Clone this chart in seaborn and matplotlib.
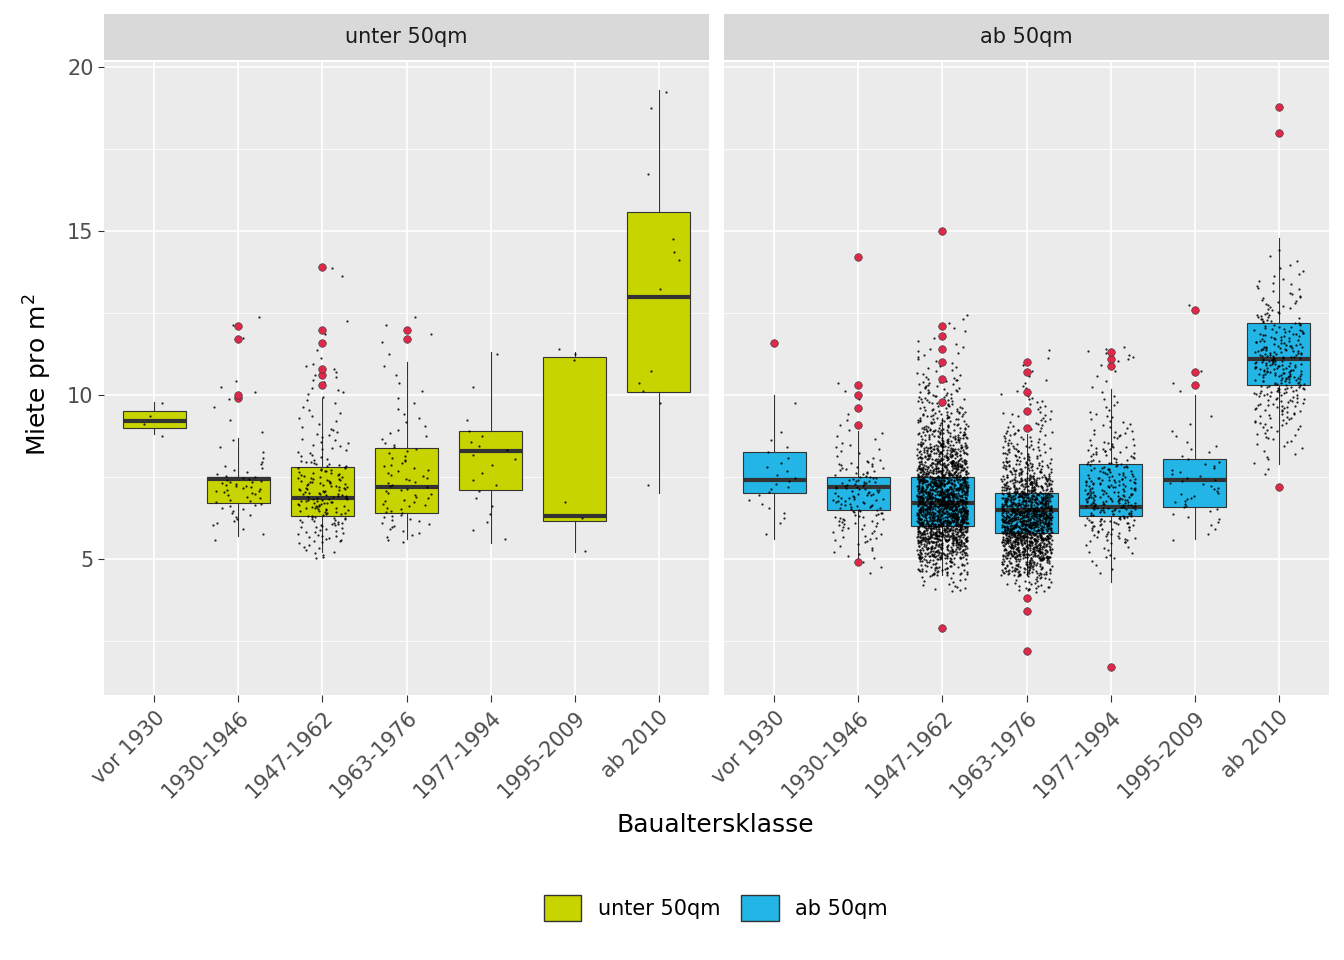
import matplotlib
matplotlib.use("Agg")
import matplotlib.pyplot as plt
from matplotlib.patches import Patch
from matplotlib.lines import Line2D
import numpy as np
import pandas as pd
import seaborn as sns

KLASSEN = ["vor 1930", "1930-1946", "1947-1962", "1963-1976", "1977-1994", "1995-2009", "ab 2010"]
GRUPPEN = ["unter 50qm", "ab 50qm"]
FARBEN = {"unter 50qm": "#C8D400", "ab 50qm": "#22B5E6"}

# box statistics: whislo, q1, median, q3, whishi
BOX_KLEIN = [
    (8.8, 9.0, 9.2, 9.5, 9.8),
    (5.7, 6.7, 7.45, 7.5, 8.7),
    (5.2, 6.3, 6.85, 7.8, 9.9),
    (5.6, 6.4, 7.2, 8.4, 11.0),
    (5.5, 7.1, 8.3, 8.9, 11.3),
    (5.2, 6.15, 6.3, 11.15, 11.3),
    (7.0, 10.1, 13.0, 15.6, 19.3),
]
BOX_GROSS = [
    (5.6, 7.0, 7.4, 8.25, 10.0),
    (5.0, 6.5, 7.2, 7.5, 8.9),
    (4.5, 6.0, 6.7, 7.5, 9.3),
    (4.5, 5.8, 6.5, 7.0, 8.8),
    (4.3, 6.3, 6.6, 7.9, 10.2),
    (5.6, 6.6, 7.4, 8.05, 10.0),
    (7.9, 10.3, 11.1, 12.2, 14.8),
]
AUSREISSER_KLEIN = [[], [9.9, 10.0, 11.7, 12.1], [10.3, 10.6, 10.8, 11.6, 12.0, 13.9],
                    [11.7, 12.0], [], [], []]
AUSREISSER_GROSS = [[11.6], [4.9, 9.1, 9.6, 10.0, 10.3, 14.2],
                    [2.9, 9.8, 10.5, 11.0, 11.4, 11.8, 12.1, 15.0],
                    [2.2, 3.4, 3.8, 9.0, 9.5, 10.1, 10.7, 11.0],
                    [1.7, 10.9, 11.1, 11.3], [10.3, 10.7, 12.6], [7.2, 18.0, 18.8]]

# point counts per 0.5-wide rent bin, bins starting at 4.0
BIN_START = 4.0
BIN_BREITE = 0.5
ZAHL_KLEIN = [
    [0, 0, 0, 0, 0, 0, 0, 0, 0, 1, 2, 1],
    [0, 0, 0, 3, 8, 12, 20, 8, 3, 2, 1, 2, 3, 0, 0, 1, 2],
    [0, 0, 10, 20, 30, 40, 35, 25, 12, 10, 6, 5, 8, 6, 2, 2, 1, 0, 0, 2],
    [0, 0, 0, 8, 12, 12, 12, 10, 8, 5, 4, 3, 2, 2, 1, 2, 2],
    [0, 0, 0, 2, 2, 2, 3, 2, 4, 3, 1, 0, 1, 0, 1],
    [0, 0, 1, 0, 1, 1, 0, 0, 0, 0, 0, 0, 0, 0, 3],
    [0, 0, 0, 0, 0, 0, 1, 0, 0, 0, 0, 1, 2, 1, 0, 0, 0, 0, 1, 0, 2, 1, 0, 0, 0, 1, 0, 0, 0, 1, 1],
]
ZAHL_GROSS = [
    [0, 0, 0, 1, 3, 4, 6, 4, 3, 2, 0, 1],
    [0, 3, 8, 15, 25, 30, 30, 20, 8, 5, 3, 2, 2],
    [15, 60, 150, 250, 330, 330, 280, 200, 130, 80, 50, 35, 25, 12, 8, 5, 4],
    [30, 100, 200, 280, 300, 230, 140, 70, 40, 25, 15, 10, 6, 3, 2],
    [0, 4, 10, 25, 45, 65, 50, 35, 25, 15, 10, 6, 3, 3, 8],
    [0, 0, 0, 3, 6, 10, 10, 8, 5, 3, 2, 0, 2, 1, 0, 0, 0, 1],
    [0, 0, 0, 0, 0, 0, 0, 3, 6, 12, 20, 30, 45, 55, 50, 35, 25, 15, 10, 6, 3],
]


def punkte(zahlen):
    werte = []
    for k, c in enumerate(zahlen):
        if c:
            lo = BIN_START + k * BIN_BREITE
            werte.extend(lo + BIN_BREITE * (np.arange(c) + 0.5) / c)
    return werte


def panel(ax, gruppe, boxen, ausreisser, zahlen):
    ax.set_facecolor("#EBEBEB")
    stats = [dict(whislo=b[0], q1=b[1], med=b[2], q3=b[3], whishi=b[4], fliers=[])
             for b in boxen]
    ax.bxp(stats, positions=range(7), widths=0.75, patch_artist=True, showcaps=False,
           boxprops=dict(facecolor=FARBEN[gruppe], edgecolor="#333333", linewidth=0.8),
           medianprops=dict(color="#333333", linewidth=3),
           whiskerprops=dict(color="#333333", linewidth=0.8), zorder=2)
    rows = []
    for kl, z in zip(KLASSEN, zahlen):
        rows += [(kl, v) for v in punkte(z)]
    df = pd.DataFrame(rows, columns=["klasse", "miete"])
    sns.stripplot(data=df, x="klasse", y="miete", order=KLASSEN, ax=ax, color="black",
                  size=1.6, jitter=0.3, alpha=0.85, zorder=3)
    for i, out in enumerate(ausreisser):
        ax.scatter([i] * len(out), out, s=30, color="#E0284A", edgecolor="#333333",
                   linewidth=0.4, zorder=4)
    ax.set_xlim(-0.6, 6.6)
    ax.set_ylim(0.85, 20.15)
    ax.set_yticks([5, 10, 15, 20])
    ax.set_yticks([2.5, 7.5, 12.5, 17.5], minor=True)
    ax.set_xticks(range(7))
    ax.set_xticklabels(KLASSEN, rotation=45, ha="right", rotation_mode="anchor",
                       fontsize=15, color="#4D4D4D")
    ax.grid(which="major", color="white", linewidth=1.2)
    ax.grid(which="minor", color="white", linewidth=0.6)
    ax.set_axisbelow(True)
    ax.tick_params(which="both", length=0)
    ax.tick_params(axis="y", labelsize=15, labelcolor="#4D4D4D")
    ax.tick_params(axis="x", length=5, color="#333333", pad=4)
    for s in ax.spines.values():
        s.set_visible(False)
    ax.set_xlabel("")
    ax.set_ylabel("")


fig = plt.figure(figsize=(13.44, 9.6), dpi=100)
bottom, height = 0.276, 0.659
lefts = [104 / 1344, 724 / 1344]
width = 605 / 1344
for gruppe, x0, boxen, aus, zahl in zip(GRUPPEN, lefts, [BOX_KLEIN, BOX_GROSS],
                                         [AUSREISSER_KLEIN, AUSREISSER_GROSS],
                                         [ZAHL_KLEIN, ZAHL_GROSS]):
    ax = fig.add_axes([x0, bottom, width, height])
    panel(ax, gruppe, boxen, aus, zahl)
    if gruppe != GRUPPEN[0]:
        ax.set_yticklabels([])
    else:
        ax.tick_params(axis="y", length=4, color="#333333")
    strip = fig.add_axes([x0, 1 - 60 / 960, width, 46 / 960])
    strip.set_facecolor("#D9D9D9")
    strip.set_xticks([]); strip.set_yticks([])
    for s in strip.spines.values():
        s.set_visible(False)
    strip.text(0.5, 0.5, gruppe, ha="center", va="center", fontsize=15, color="#1A1A1A")

fig.text(0.5325, 1 - 825 / 960, "Baualtersklasse", ha="center", va="center", fontsize=18)
fig.text(0.028, 0.61, "Miete pro m$^2$", rotation=90, ha="center", va="center", fontsize=18)

handles = [Patch(facecolor=FARBEN[g], edgecolor="#333333", label=g) for g in GRUPPEN]
fig.legend(handles=handles, loc="center", bbox_to_anchor=(0.5325, 1 - 908 / 960), ncol=2,
           frameon=False, fontsize=15, handlelength=1.8, handleheight=1.6,
           columnspacing=1.0)

fig.savefig("out.png", dpi=100)
